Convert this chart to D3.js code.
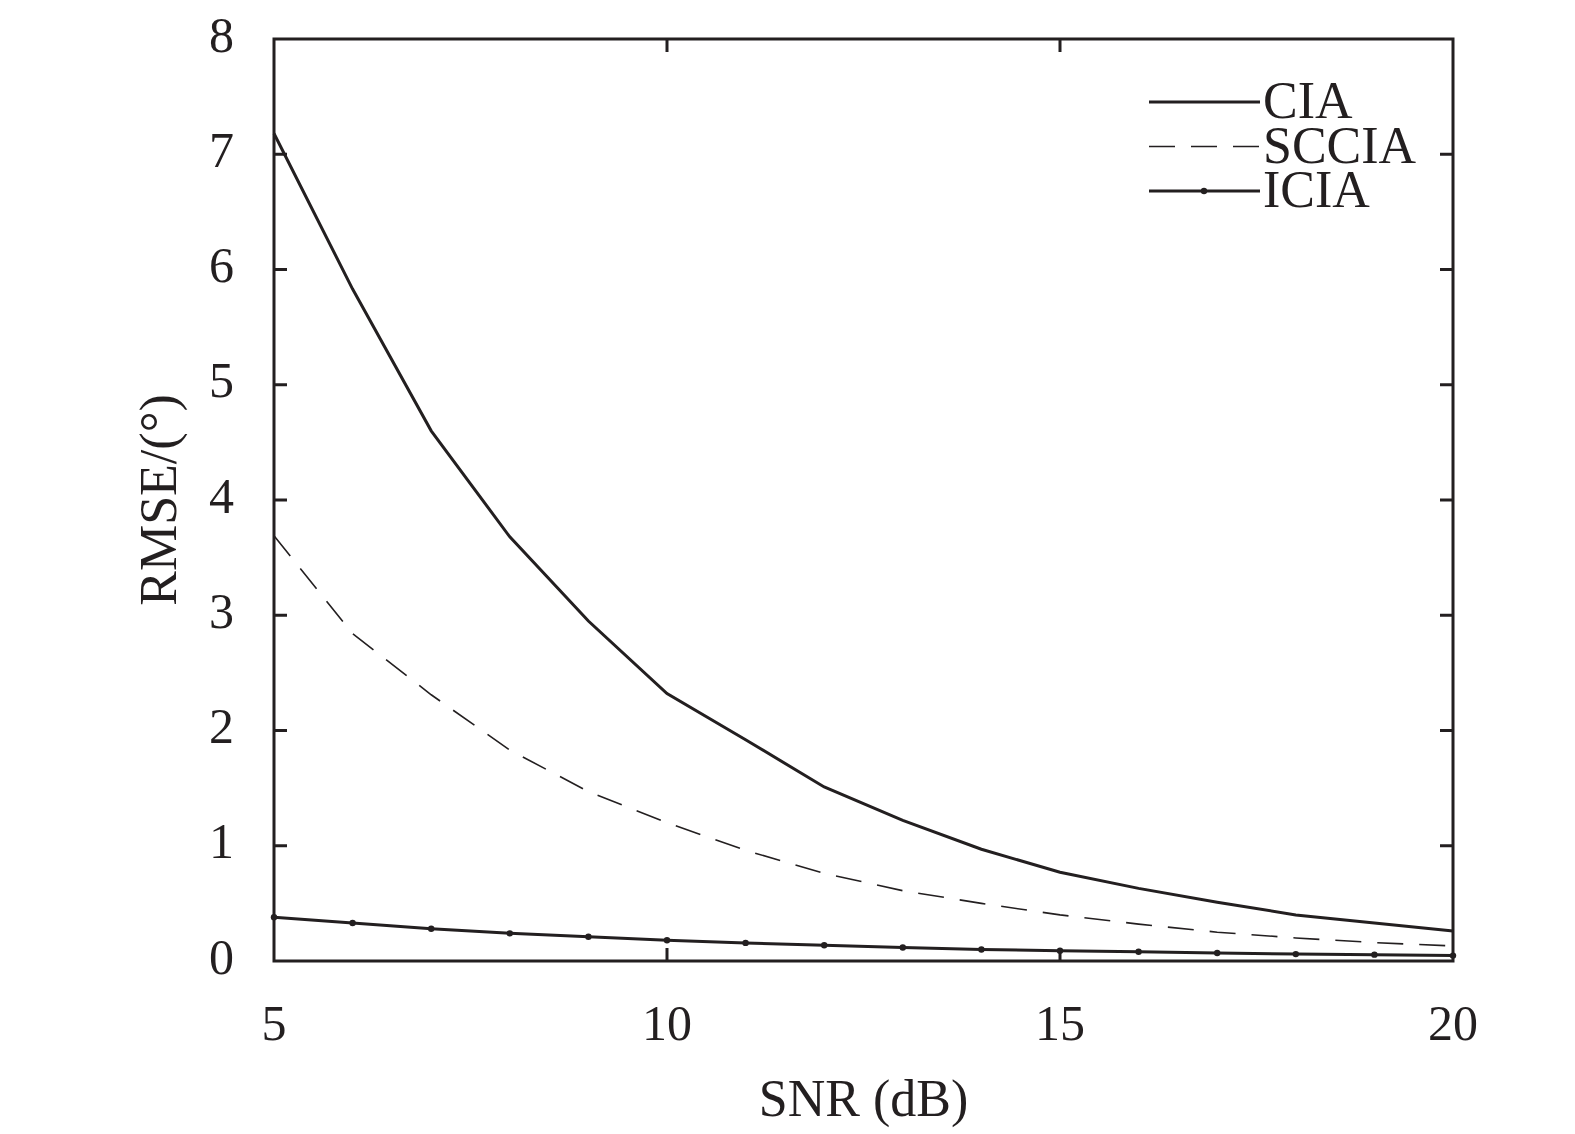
<!DOCTYPE html>
<html>
<head>
<meta charset="utf-8">
<script src="https://cdn.jsdelivr.net/npm/d3@7"></script>
<style>
  html, body { margin: 0; padding: 0; background: #fff; }
  svg { display: block; }
  text { font-family: "Times New Roman", Times, "Liberation Serif", serif; fill: #231f20; }
</style>
</head>
<body>
<div id="container"></div>
<script>
// SNR values (dB)
const snr = [5, 6, 7, 8, 9, 10, 11, 12, 13, 14, 15, 16, 17, 18, 19, 20];
// RMSE values
const cia   = [7.18, 5.83, 4.60, 3.68, 2.95, 2.32, 1.92, 1.51, 1.22, 0.97, 0.77, 0.63, 0.51, 0.40, 0.33, 0.26];
const sccia = [3.69, 2.84, 2.31, 1.83, 1.47, 1.20, 0.96, 0.76, 0.61, 0.50, 0.40, 0.32, 0.25, 0.20, 0.16, 0.13];
const icia  = [0.38, 0.33, 0.28, 0.24, 0.21, 0.18, 0.157, 0.137, 0.117, 0.10, 0.09, 0.08, 0.07, 0.06, 0.055, 0.047];

const xTicks = [5, 10, 15, 20];
const yTicks = [0, 1, 2, 3, 4, 5, 6, 7, 8];
const seriesNames = ["CIA", "SCCIA", "ICIA"];

const width = 1575, height = 1134;
const margin = {left: 274, right: 122, top: 39, bottom: 173};
const ink = "#231f20";

const svg = d3.select("#container").append("svg")
    .attr("width", width)
    .attr("height", height);

const x = d3.scaleLinear().domain([5, 20]).range([margin.left, width - margin.right]);
const y = d3.scaleLinear().domain([0, 8]).range([height - margin.bottom, margin.top]);

const tickLen = 13;
const tickFont = 50;
const labelFont = 52;

// frame
svg.append("rect")
    .attr("x", x(5)).attr("y", y(8))
    .attr("width", x(20) - x(5)).attr("height", y(0) - y(8))
    .attr("fill", "none").attr("stroke", ink).attr("stroke-width", 3);

// inward ticks, mirrored on all sides
const ticksG = svg.append("g").attr("stroke", ink).attr("stroke-width", 3);
yTicks.slice(1, -1).forEach(t => {
    ticksG.append("line").attr("x1", x(5)).attr("x2", x(5) + tickLen).attr("y1", y(t)).attr("y2", y(t));
    ticksG.append("line").attr("x1", x(20)).attr("x2", x(20) - tickLen).attr("y1", y(t)).attr("y2", y(t));
});
xTicks.slice(1, -1).forEach(t => {
    ticksG.append("line").attr("x1", x(t)).attr("x2", x(t)).attr("y1", y(0)).attr("y2", y(0) - tickLen);
    ticksG.append("line").attr("x1", x(t)).attr("x2", x(t)).attr("y1", y(8)).attr("y2", y(8) + tickLen);
});

// tick labels
svg.append("g").selectAll("text")
    .data(yTicks)
    .join("text")
    .attr("x", x(5) - 40)
    .attr("y", d => y(d) - 5)
    .attr("dy", "0.35em")
    .attr("text-anchor", "end")
    .attr("font-size", tickFont)
    .text(d => d);

svg.append("g").selectAll("text")
    .data(xTicks)
    .join("text")
    .attr("x", d => x(d))
    .attr("y", y(0) + 79)
    .attr("text-anchor", "middle")
    .attr("font-size", tickFont)
    .text(d => d);

// axis titles
svg.append("text")
    .attr("x", (x(5) + x(20)) / 2)
    .attr("y", y(0) + 155)
    .attr("text-anchor", "middle")
    .attr("font-size", labelFont)
    .text("SNR (dB)");

svg.append("text")
    .attr("transform", `translate(176,${(y(0) + y(8)) / 2}) rotate(-90)`)
    .attr("text-anchor", "middle")
    .attr("font-size", labelFont)
    .text("RMSE/(°)");

// lines
const line = d3.line().x(d => x(d[0])).y(d => y(d[1]));
const styles = [
    {data: cia,   width: 3,   dash: null},
    {data: sccia, width: 1.6, dash: "26,16"},
    {data: icia,  width: 3,   dash: null}
];

styles.forEach(s => {
    svg.append("path")
        .datum(snr.map((v, i) => [v, s.data[i]]))
        .attr("fill", "none")
        .attr("stroke", ink)
        .attr("stroke-width", s.width)
        .attr("stroke-dasharray", s.dash)
        .attr("d", line);
});

svg.append("g").selectAll("circle")
    .data(snr.map((v, i) => [v, icia[i]]))
    .join("circle")
    .attr("cx", d => x(d[0]))
    .attr("cy", d => y(d[1]))
    .attr("r", 3.2)
    .attr("fill", ink);

// legend
const legend = svg.append("g").attr("transform", "translate(1149,102)");
const rowGap = 44.5;
seriesNames.forEach((name, i) => {
    const yy = i * rowGap;
    legend.append("line")
        .attr("x1", 0).attr("x2", 111)
        .attr("y1", yy).attr("y2", yy)
        .attr("stroke", ink)
        .attr("stroke-width", styles[i].width)
        .attr("stroke-dasharray", styles[i].dash);
    if (i === 2) {
        legend.append("circle").attr("cx", 55).attr("cy", yy).attr("r", 3.2).attr("fill", ink);
    }
    legend.append("text")
        .attr("x", 114)
        .attr("y", yy + 16)
        .attr("font-size", labelFont)
        .text(name);
});
</script>
</body>
</html>
